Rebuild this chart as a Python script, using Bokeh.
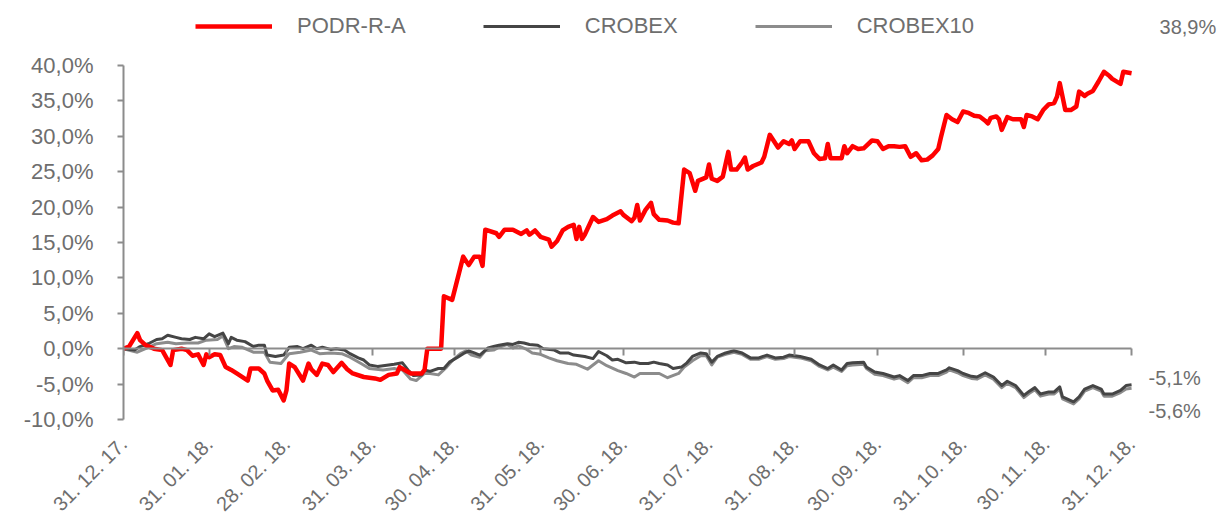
import pandas as pd
from math import pi
from bokeh.plotting import figure
from bokeh.models import (Range1d, FixedTicker, Legend, LegendItem, Label, DatetimeAxis,
                          CustomJSTickFormatter)
from bokeh.embed import file_html
from bokeh.resources import INLINE

# ---------------- data (day offsets from 31.12.2017, % change) ----------------
podr_days = [0, 2, 5, 6, 8, 11, 14, 17, 18, 21, 23, 25, 27, 29, 30, 31, 33, 35, 37, 39, 41, 45, 46, 49, 51, 52,
             54, 56, 58, 59, 60, 62, 65, 67, 68, 70, 72, 74, 76, 79, 81, 83, 87, 91, 93, 96, 99, 100, 104, 108,
             109, 110, 115, 116, 119, 123, 125, 127, 129, 130, 131, 135, 136, 138, 141, 144, 146, 147, 149, 151,
             154, 155, 157, 159, 161, 163, 164, 165, 166, 167, 170, 172, 175, 177, 180, 181, 184, 185, 186, 187,
             189, 191, 192, 194, 197, 199, 201, 203, 205, 207, 208, 211, 212, 213, 215, 217, 219, 220, 222, 224,
             225, 226, 228, 231, 232, 234, 237, 239, 241, 242, 243, 245, 248, 250, 252, 254, 255, 256, 259, 260,
             261, 262, 264, 266, 268, 271, 273, 275, 277, 279, 281, 283, 285, 287, 289, 291, 293, 295, 296, 298,
             300, 302, 304, 306, 308, 310, 312, 313, 314, 316, 317, 318, 320, 322, 325, 326, 327, 329, 331, 333,
             335, 337, 338, 339, 341, 343, 345, 346, 348, 349, 351, 353, 355, 357, 358, 361, 362, 365]
podr_vals = [0.0, 0.3, 2.2, 1.2, 0.5, 0.0, -0.2, -2.3, -0.2, 0.0, -0.2, -1.0, -0.8, -2.3, -0.8, -1.2, -0.8, -0.9,
             -2.6, -3.0, -3.5, -4.5, -2.8, -2.8, -3.5, -4.5, -5.9, -5.8, -7.3, -5.9, -2.1, -2.6, -4.5, -2.1, -2.9,
             -3.7, -2.1, -2.3, -3.3, -2.0, -2.9, -3.5, -4.0, -4.2, -4.4, -3.7, -3.5, -2.6, -3.5, -3.5, -3.0, 0.0,
             0.0, 7.4, 6.9, 13.0, 11.8, 13.0, 13.0, 11.7, 16.8, 16.3, 15.8, 16.8, 16.8, 16.2, 16.7, 16.1, 16.7,
             15.8, 15.4, 14.4, 15.2, 16.7, 17.2, 17.5, 15.5, 17.2, 15.5, 16.1, 18.6, 17.9, 18.3, 18.8, 19.4, 18.9,
             18.0, 18.5, 20.3, 18.1, 19.6, 20.6, 19.0, 18.2, 18.1, 17.8, 17.7, 25.3, 24.8, 22.3, 23.7, 24.2, 26.0,
             24.0, 23.7, 24.3, 27.8, 25.3, 25.3, 26.3, 27.0, 25.3, 25.8, 26.3, 27.1, 30.2, 28.4, 29.3, 28.9, 29.4,
             28.2, 29.3, 29.3, 27.6, 26.8, 26.9, 28.9, 26.9, 26.9, 26.9, 28.6, 27.6, 28.6, 28.2, 28.3, 29.4, 29.3,
             28.2, 28.6, 28.6, 28.5, 28.6, 27.1, 27.6, 26.6, 26.7, 27.3, 28.2, 29.9, 33.0, 32.4, 32.0, 33.5, 33.3,
             32.9, 32.8, 32.2, 31.8, 32.6, 32.8, 32.4, 30.9, 32.7, 32.4, 32.4, 31.3, 33.0, 32.8, 32.4, 33.7, 34.5,
             34.7, 35.6, 37.5, 33.7, 33.7, 34.2, 36.3, 35.7, 36.0, 36.4, 37.7, 39.1, 38.5, 38.1, 37.4, 39.1, 38.9]

crobex_days = [0, 4, 6, 9, 12, 14, 16, 19, 21, 24, 26, 29, 31, 33, 36, 38, 39, 41, 44, 47, 49, 51, 52, 55, 58,
               60, 63, 65, 68, 70, 72, 75, 77, 80, 82, 85, 87, 89, 92, 96, 98, 101, 103, 105, 108, 109, 111, 114,
               116, 118, 121, 123, 125, 127, 129, 132, 134, 136, 139, 141, 143, 145, 147, 150, 152, 156, 158, 161,
               163, 167, 170, 172, 175, 177, 179, 182, 185, 187, 190, 192, 194, 197, 199, 202, 204, 206, 209, 211,
               213, 215, 218, 221, 224, 227, 230, 233, 236, 239, 241, 245, 249, 252, 255, 257, 260, 262, 264, 268,
               269, 272, 275, 279, 281, 284, 286, 289, 292, 295, 298, 299, 302, 304, 307, 309, 312, 315, 318, 320,
               323, 326, 328, 330, 332, 335, 337, 339, 340, 344, 346, 348, 351, 354, 355, 358, 361, 363, 365]
crobex_vals = [0.0, -0.2, 0.3, 0.7, 1.3, 1.4, 1.9, 1.6, 1.4, 1.3, 1.6, 1.4, 2.1, 1.7, 2.2, 0.7, 1.6, 1.2, 1.0,
               0.3, 0.5, 0.5, -0.9, -1.1, -0.9, 0.2, 0.3, 0.0, 0.5, 0.0, 0.2, -0.1, 0.0, -0.2, -0.7, -1.3, -1.6,
               -2.3, -2.5, -2.3, -2.2, -2.0, -3.0, -3.8, -3.7, -3.0, -3.2, -2.8, -2.8, -1.9, -1.2, -0.7, -0.3,
               -0.6, -0.9, 0.1, 0.3, 0.5, 0.7, 0.6, 0.9, 0.8, 0.6, 0.5, 0.0, -0.2, -0.6, -0.6, -0.9, -1.1, -1.4,
               -0.4, -1.0, -1.6, -1.5, -2.0, -1.9, -2.1, -2.1, -1.9, -2.1, -2.3, -2.8, -2.6, -2.0, -1.1, -0.6,
               -0.7, -1.9, -1.1, -0.6, -0.3, -0.6, -1.3, -1.3, -0.9, -1.3, -1.2, -0.9, -1.1, -1.5, -2.3, -2.8,
               -2.3, -3.0, -2.1, -2.0, -1.9, -2.6, -3.3, -3.5, -4.0, -3.8, -4.5, -3.8, -3.8, -3.5, -3.5, -3.0,
               -2.7, -3.1, -3.5, -3.9, -4.0, -3.4, -4.0, -5.2, -4.6, -5.2, -6.6, -6.0, -5.5, -6.4, -6.1, -6.1,
               -5.4, -6.8, -7.5, -6.8, -5.7, -5.2, -5.7, -6.4, -6.4, -5.9, -5.2, -5.1]

crobex10_days = [0, 5, 9, 12, 16, 19, 23, 27, 30, 34, 36, 38, 40, 43, 47, 51, 53, 57, 60, 64, 68, 71, 75, 79,
                 82, 86, 89, 94, 98, 101, 104, 106, 109, 111, 114, 117, 119, 122, 124, 126, 129, 131, 134, 136,
                 139, 141, 143, 146, 148, 151, 154, 157, 161, 164, 168, 172, 175, 179, 182, 185, 187, 191, 194,
                 197, 201, 203, 206, 209, 211, 213, 215, 218, 221, 224, 227, 230, 233, 236, 239, 241, 245, 249,
                 252, 255, 257, 260, 262, 264, 268, 269, 272, 275, 279, 281, 284, 286, 289, 292, 295, 298, 299,
                 302, 304, 307, 309, 312, 315, 318, 320, 323, 326, 328, 330, 332, 335, 337, 339, 340, 344, 346,
                 348, 351, 354, 355, 358, 361, 363, 365]
crobex10_vals = [0.0, -0.5, 0.2, 0.7, 0.9, 0.7, 0.8, 0.8, 1.2, 1.3, 1.8, 0.0, 0.3, 0.2, -0.5, -0.5, -1.9, -2.1,
                 -0.7, -0.5, -0.2, -0.7, -0.6, -0.7, -1.2, -2.1, -2.8, -3.0, -2.8, -3.0, -4.3, -4.5, -3.5, -3.5,
                 -3.7, -2.6, -1.7, -0.7, -0.3, -0.9, -1.2, -0.3, -0.2, 0.2, 0.6, 0.1, 0.4, -0.1, -0.6, -0.8, -1.3,
                 -1.7, -2.1, -2.2, -2.9, -1.7, -2.4, -3.1, -3.5, -4.0, -3.5, -3.5, -3.5, -4.1, -3.5, -2.6, -1.7,
                 -1.0, -1.0, -2.3, -1.2, -0.8, -0.5, -0.8, -1.5, -1.5, -1.1, -1.5, -1.4, -1.1, -1.3, -1.7, -2.5,
                 -3.0, -2.6, -3.2, -2.4, -2.3, -2.2, -2.8, -3.6, -3.8, -4.3, -4.1, -4.8, -4.1, -4.1, -3.8, -3.8,
                 -3.3, -3.0, -3.4, -3.8, -4.2, -4.3, -3.7, -4.3, -5.5, -4.9, -5.5, -6.9, -6.3, -5.8, -6.7, -6.4,
                 -6.4, -5.7, -7.1, -7.8, -7.1, -6.0, -5.5, -6.0, -6.7, -6.7, -6.2, -5.7, -5.6]

tick_dates = ["2017-12-31", "2018-01-31", "2018-02-28", "2018-03-31", "2018-04-30", "2018-05-31",
              "2018-06-30", "2018-07-31", "2018-08-31", "2018-09-30", "2018-10-31", "2018-11-30", "2018-12-31"]
tick_labels = ["31. 12. 17.", "31. 01. 18.", "28. 02. 18.", "31. 03. 18.", "30. 04. 18.", "31. 05. 18.",
               "30. 06. 18.", "31. 07. 18.", "31. 08. 18.", "30. 09. 18.", "31. 10. 18.", "30. 11. 18.",
               "31. 12. 18."]
y_ticks = [-10, -5, 0, 5, 10, 15, 20, 25, 30, 35, 40]
y_tick_labels = ["-10,0%", "-5,0%", "0,0%", "5,0%", "10,0%", "15,0%", "20,0%", "25,0%", "30,0%", "35,0%", "40,0%"]

series_names = ["PODR-R-A", "CROBEX", "CROBEX10"]

# ---------------- styles / layout ----------------
FONT = "Liberation Sans"
TXT = "#6e6e6e"
AX = "#8c8c8c"
PAD_DAYS = 32.2      # empty room right of the data (for the end labels)
Y_TOP = 49.17        # empty room above the data (for the legend row)

base = pd.Timestamp("2017-12-31")


def to_dates(days):
    return base + pd.to_timedelta(days, unit="D")


tick_ts = pd.to_datetime(tick_dates)
tick_ms = [int(t.value // 10**6) for t in tick_ts]

x_start, x_end = tick_ts[0], tick_ts[-1] + pd.Timedelta(days=PAD_DAYS)
p = figure(width=1220, height=526, x_axis_type="datetime", output_backend="svg", toolbar_location=None,
           x_range=Range1d(x_start, x_end), y_range=Range1d(y_ticks[0], Y_TOP),
           min_border_left=123, min_border_right=0, min_border_top=0, min_border_bottom=107)
p.outline_line_color = None
p.grid.visible = False
p.background_fill_color = "white"
p.border_fill_color = "white"

r10 = p.line(to_dates(crobex10_days), crobex10_vals, line_color="#8c8c8c", line_width=3, line_join="round")
rcx = p.line(to_dates(crobex_days), crobex_vals, line_color="#454545", line_width=3, line_join="round")
rpd = p.line(to_dates(podr_days), podr_vals, line_color="#ff0000", line_width=4.5, line_join="round")

# x axis drawn on the zero line with downward ticks (no labels)
xa = p.xaxis[0]
xa.fixed_location = 0
xa.bounds = (tick_ts[0], tick_ts[-1])
xa.ticker = FixedTicker(ticks=tick_ms)
xa.formatter = CustomJSTickFormatter(code="return ''")
xa.major_label_text_font_size = "0px"
xa.axis_line_color = AX
xa.axis_line_width = 2
xa.major_tick_line_color = AX
xa.major_tick_line_width = 2
xa.major_tick_out = 7
xa.major_tick_in = 0
xa.minor_tick_line_color = None
xa.major_label_standoff = 0

# date labels axis below the plot
la = DatetimeAxis(ticker=FixedTicker(ticks=tick_ms),
                  major_label_overrides={m: lab for m, lab in zip(tick_ms, tick_labels)},
                  major_label_orientation=pi / 4, major_label_standoff=21,
                  axis_line_color=None, major_tick_line_color=None, minor_tick_line_color=None,
                  major_tick_out=0, major_tick_in=0,
                  major_label_text_font=FONT, major_label_text_font_size="20px",
                  major_label_text_color=TXT)
p.add_layout(la, "below")

ya = p.yaxis[0]
ya.bounds = (y_ticks[0], y_ticks[-1])
ya.ticker = FixedTicker(ticks=y_ticks)
ya.major_label_overrides = {t: lab for t, lab in zip(y_ticks, y_tick_labels)}
ya.axis_line_color = AX
ya.axis_line_width = 2
ya.major_tick_line_color = AX
ya.major_tick_line_width = 2
ya.major_tick_out = 6
ya.major_tick_in = 0
ya.minor_tick_line_color = None
ya.major_label_standoff = 24
ya.major_label_text_font = FONT
ya.major_label_text_font_size = "22px"
ya.major_label_text_color = TXT

legend = Legend(items=[LegendItem(label=series_names[0], renderers=[rpd]),
                       LegendItem(label=series_names[1], renderers=[rcx]),
                       LegendItem(label=series_names[2], renderers=[r10])],
                orientation="horizontal", location=(72, 380), glyph_width=77, glyph_height=20,
                label_standoff=25, spacing=77, padding=0, margin=0, border_line_alpha=0,
                background_fill_alpha=0, label_text_font=FONT, label_text_font_size="22px",
                label_text_color=TXT)
p.add_layout(legend)


def fmt(v):
    return f"{v:.1f}%".replace(".", ",")


end = tick_ts[-1]
for val, dx, dy in [(podr_vals[-1], 28, 46), (crobex_vals[-1], 17, 7), (crobex10_vals[-1], 17, -23)]:
    p.add_layout(Label(x=end, y=val, text=fmt(val), x_offset=dx, y_offset=dy, text_align="left",
                       text_baseline="middle", text_font=FONT, text_font_size="20px", text_color=TXT))

open("out.html", "w").write(file_html(p, INLINE))
